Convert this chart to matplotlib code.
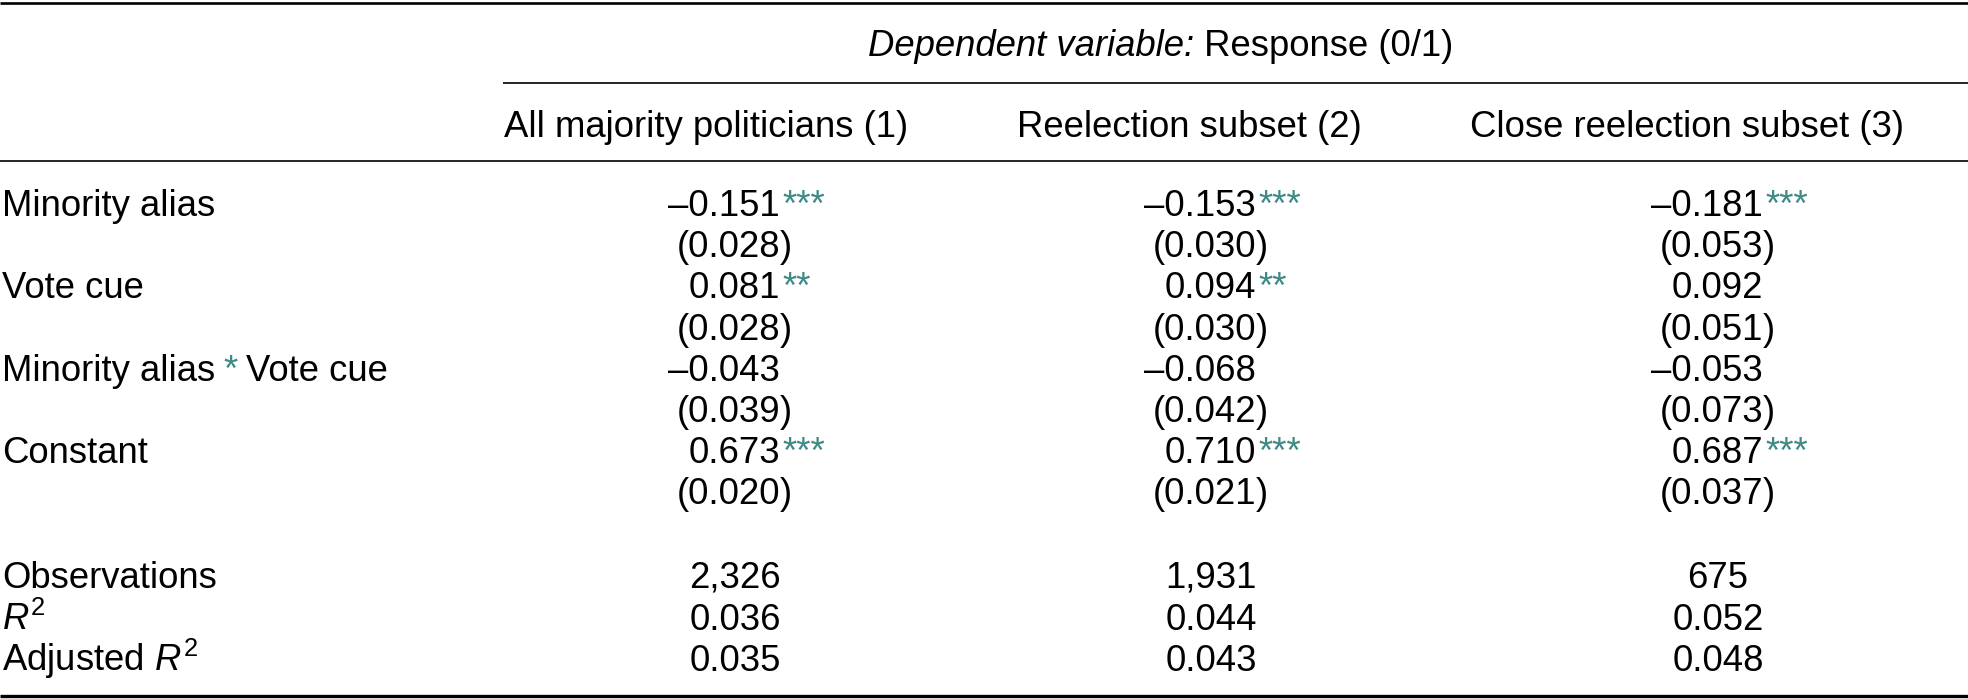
import matplotlib
matplotlib.use("Agg")
import matplotlib.pyplot as plt

# table content
row_labels = ["Minority alias", "Vote cue", "Minority alias * Vote cue", "Constant"]
col_headers = ["All majority politicians (1)", "Reelection subset (2)", "Close reelection subset (3)"]
coef = [[-0.151, -0.153, -0.181],
        [0.081, 0.094, 0.092],
        [-0.043, -0.068, -0.053],
        [0.673, 0.710, 0.687]]
se = [[0.028, 0.030, 0.053],
      [0.028, 0.030, 0.051],
      [0.039, 0.042, 0.073],
      [0.020, 0.021, 0.037]]
stars = [["***", "***", "***"],
         ["**", "**", ""],
         ["", "", ""],
         ["***", "***", "***"]]
stat_labels = ["Observations", "$R^2$", "Adjusted $R^2$"]
observations = [2326, 1931, 675]
r2 = [0.036, 0.044, 0.052]
adj_r2 = [0.035, 0.043, 0.048]

plt.rcParams['font.family'] = ['Liberation Sans', 'DejaVu Sans']
plt.rcParams['mathtext.fontset'] = 'custom'
plt.rcParams['mathtext.rm'] = 'Liberation Sans'
plt.rcParams['mathtext.it'] = 'Liberation Sans:italic'

FS = 26.3
TEAL = '#3f8a86'
W, H = 1968, 699

fig = plt.figure(figsize=(W / 100, H / 100), dpi=100)
ax = fig.add_axes([0, 0, 1, 1])
ax.set_xlim(0, W)
ax.set_ylim(H, 0)
ax.axis('off')

# layout (pixels)
cap_half = 13
label_x = 2
num_right = [780, 1256, 1763]
stat_center = [735, 1211, 1718]
header_left = [504, 1017, 1470]
row_y0, row_step = 203, 41.2
stat_y = [575, 617, 658]


def fmt(v):
    return f"{v:.3f}".replace("-", "\u2013")


def put(x, y, s, ha='left', **kw):
    return ax.text(x, y + cap_half, s, ha=ha, va='baseline', fontsize=FS, **kw)


def after(t, s, dx=0, color='black'):
    return ax.annotate(s, xy=(1, 0), xycoords=t, xytext=(dx, 0),
                       textcoords='offset points', ha='left', va='bottom',
                       fontsize=FS, color=color)


# rules
ax.plot([0, W], [3, 3], color='black', lw=1.9, solid_capstyle='butt')
ax.plot([503, W], [83, 83], color='black', lw=1.2, solid_capstyle='butt')
ax.plot([0, W], [161, 161], color='black', lw=1.2, solid_capstyle='butt')
ax.plot([0, W], [696, 696], color='black', lw=2.4, solid_capstyle='butt')

# dependent variable heading
put(1194, 43, "Dependent variable:", ha='right', fontstyle='italic')
put(1194, 43, " Response (0/1)")

# column headers
for x, h in zip(header_left, col_headers):
    put(x, 124, h)

# coefficient rows
for i, lab in enumerate(row_labels):
    y = row_y0 + 2 * i * row_step
    if "*" in lab:
        left, right = lab.split(" * ")
        t = put(label_x, y, left)
        t2 = after(t, "*", dx=6, color=TEAL)
        after(t2, right, dx=6)
    else:
        put(label_x, y, lab)
    for j in range(3):
        t = put(num_right[j], y, fmt(coef[i][j]), ha='right')
        if stars[i][j]:
            after(t, stars[i][j], dx=1.5, color=TEAL)
        t = put(num_right[j], y + row_step, "(" + fmt(se[i][j]), ha='right')
        after(t, ")")

# summary statistics
stat_vals = [[f"{v:,}" for v in observations],
             [fmt(v) for v in r2],
             [fmt(v) for v in adj_r2]]
for y, lab, vals in zip(stat_y, stat_labels, stat_vals):
    put(label_x, y, lab)
    for j in range(3):
        put(stat_center[j], y, vals[j], ha='center')

fig.savefig("out.png", dpi=100)
